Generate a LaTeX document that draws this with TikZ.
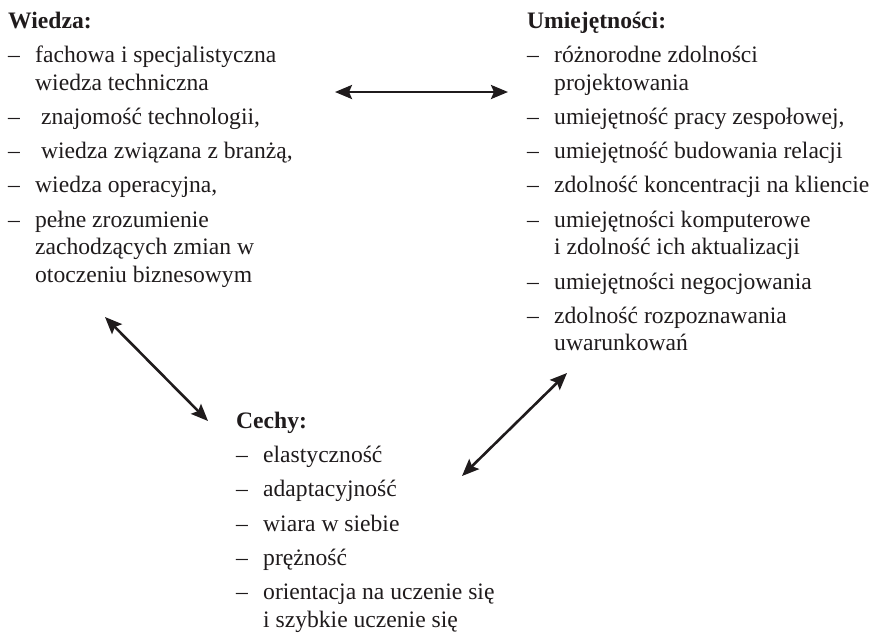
\documentclass[tikz,border=0pt]{standalone}
\usepackage{fontspec}
\setmainfont{Liberation Serif}
\usetikzlibrary{arrows.meta}
\definecolor{ink}{HTML}{1F1B1C}
\newcommand{\itm}[1]{\makebox[27pt][l]{–}#1}
\newcommand{\cnt}[1]{\hspace*{27pt}#1}
\newcommand{\firstl}{\rule{0pt}{20pt}}
\tikzset{
  block/.style={anchor=north west, align=left, inner sep=0pt, text=ink,
    font=\fontsize{23.6}{27.5}\selectfont},
  link/.style={draw=ink, line width=2.6pt,
    {Stealth[length=17pt,width=14pt,inset=3pt]}-{Stealth[length=17pt,width=14pt,inset=3pt]}}
}
\begin{document}
\begin{tikzpicture}[x=1pt,y=-1pt]
\useasboundingbox (0,0) rectangle (875,633);
\node[block] (wiedza) at (8,8) {\firstl\textbf{Wiedza:}\\[6.8pt]
\itm{fachowa i specjalistyczna}\\
\cnt{wiedza techniczna}\\[6.8pt]
\itm{ znajomość technologii,}\\[6.8pt]
\itm{ wiedza związana z branżą,}\\[6.8pt]
\itm{wiedza operacyjna,}\\[6.8pt]
\itm{pełne zrozumienie}\\
\cnt{zachodzących zmian w}\\
\cnt{otoczeniu biznesowym}};
\node[block] (umiej) at (527,8) {\firstl\textbf{Umiejętności:}\\[6.8pt]
\itm{różnorodne zdolności}\\
\cnt{projektowania}\\[6.8pt]
\itm{umiejętność pracy zespołowej,}\\[6.8pt]
\itm{umiejętność budowania relacji}\\[6.8pt]
\itm{zdolność koncentracji na kliencie}\\[6.8pt]
\itm{umiejętności komputerowe}\\
\cnt{i zdolność ich aktualizacji}\\[6.8pt]
\itm{umiejętności negocjowania}\\[6.8pt]
\itm{zdolność rozpoznawania}\\
\cnt{uwarunkowań}};
\node[block] (cechy) at (236,408) {\firstl\textbf{Cechy:}\\[6.8pt]
\itm{elastyczność}\\[6.8pt]
\itm{adaptacyjność}\\[6.8pt]
\itm{wiara w siebie}\\[6.8pt]
\itm{prężność}\\[6.8pt]
\itm{orientacja na uczenie się}\\
\cnt{i szybkie uczenie się}};
\coordinate (h1) at (335,92);
\coordinate (h2) at (508,92);
\coordinate (l1) at (105,317);
\coordinate (l2) at (208,421);
\coordinate (r1) at (567,373);
\coordinate (r2) at (462,476);
\draw[link] (h1) -- (h2);
\draw[link] (l1) -- (l2);
\draw[link] (r1) -- (r2);
\end{tikzpicture}
\end{document}
